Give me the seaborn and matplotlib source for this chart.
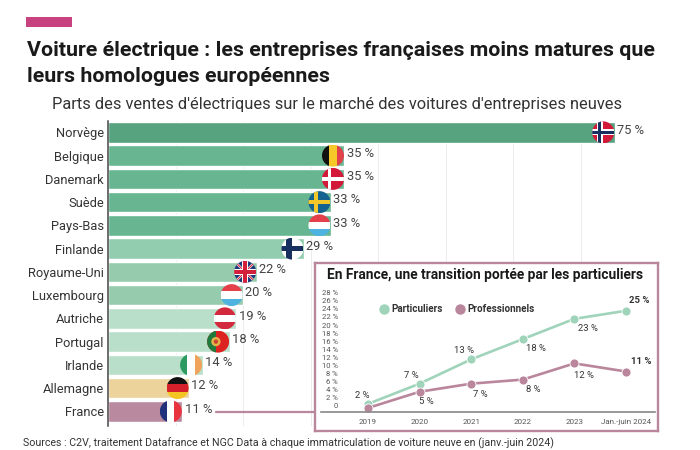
# plot.py
# Voiture electrique : parts des ventes dans les flottes d'entreprises

import pandas as pd
import seaborn as sns
import matplotlib.pyplot as plt
from matplotlib.lines import Line2D
from matplotlib.patches import Circle, Polygon, Rectangle
from matplotlib.transforms import ScaledTranslation

pays = ["Norvège", "Belgique", "Danemark", "Suède", "Pays-Bas", "Finlande", "Royaume-Uni",
        "Luxembourg", "Autriche", "Portugal", "Irlande", "Allemagne", "France"]
parts = [75, 35, 35, 33, 33, 29, 22, 20, 19, 18, 14, 12, 11]
couleurs = ["#57a37f", "#67b691", "#67b691", "#67b691", "#67b691", "#93cdb0", "#97cbae",
            "#97cbae", "#b9dfca", "#b9dfca", "#b9dfca", "#ecd29b", "#b98a9f"]
drapeaux = ["no", "be", "dk", "se", "lu", "fi", "uk", "lu", "at", "pt", "ie", "de", "fr"]

annees = ["2019", "2020", "2021", "2022", "2023", "Jan.-juin 2024"]
particuliers = [2, 7, 13, 18, 23, 25]
professionnels = [1, 5, 7, 8, 12, 10]  # position, l'etiquette dit 11 %
labels_part = ["2 %", "7 %", "13 %", "18 %", "23 %", "25 %"]
labels_pro = ["", "5 %", "7 %", "8 %", "12 %", "11 %"]
ticks_y = list(range(0, 30, 2))

VERT = "#9fd4bb"
ROSE = "#b9869b"
W, H = 700, 450

sns.set_theme(style="white")
plt.rcParams["font.family"] = ["Roboto", "DejaVu Sans"]


def box(x0, y0, x1, y1):
    # pixels du haut de l'image -> fraction de figure
    return [x0 / W, 1 - y1 / H, (x1 - x0) / W, (y1 - y0) / H]


def drapeau(fond, code, cx, cy, r=11):
    clip = Circle((cx, cy), r, transform=fond.transData)

    def rect(x0, y0, x1, y1, c):
        p = Rectangle((cx + x0 * r, cy + y0 * r), (x1 - x0) * r, (y1 - y0) * r, color=c, lw=0, zorder=5)
        fond.add_patch(p)
        p.set_clip_path(clip)

    def poly(pts, c):
        p = Polygon([(cx + a * r, cy + b * r) for a, b in pts], color=c, lw=0, zorder=5)
        fond.add_patch(p)
        p.set_clip_path(clip)

    def bandes_v(cs):
        for i, c in enumerate(cs):
            rect(-1 + 2 * i / len(cs), -1, -1 + 2 * (i + 1) / len(cs), 1, c)

    def bandes_h(cs):
        # y vers le bas : la premiere couleur est en haut
        for i, c in enumerate(cs):
            rect(-1, -1 + 2 * i / len(cs), 1, -1 + 2 * (i + 1) / len(cs), c)

    def croix(fd, c1, e1, c2=None, e2=0, x=-0.3):
        rect(-1, -1, 1, 1, fd)
        rect(x - e1, -1, x + e1, 1, c1)
        rect(-1, -e1, 1, e1, c1)
        if c2:
            rect(x - e2, -1, x + e2, 1, c2)
            rect(-1, -e2, 1, e2, c2)

    if code == "no":
        croix("#d3193a", "white", 0.28, "#17305f", 0.13)
    elif code == "be":
        bandes_v(["#111111", "#f6c928", "#e0414b"])
    elif code == "dk":
        croix("#d3193a", "white", 0.16)
    elif code == "se":
        croix("#14628f", "#f2c72a", 0.2)
    elif code == "fi":
        croix("white", "#17305f", 0.26)
    elif code == "lu":
        bandes_h(["#e4404b", "white", "#4fb3e0"])
    elif code == "at":
        bandes_h(["#d3293f", "white", "#d3293f"])
    elif code == "ie":
        bandes_v(["#2b9b62", "white", "#f0a35a"])
    elif code == "de":
        bandes_h(["#111111", "#d3202a", "#f4c522"])
    elif code == "fr":
        bandes_v(["#20307a", "white", "#e8343f"])
    elif code == "pt":
        rect(-1, -1, 1, 1, "#dd2222")
        rect(-1, -1, -0.2, 1, "#1f7a3c")
        fond.add_patch(Circle((cx - 0.2 * r, cy), 0.42 * r, color="#e6b34a", lw=0, zorder=6))
        fond.add_patch(Circle((cx - 0.2 * r, cy), 0.2 * r, color="#c8452f", lw=0, zorder=7))
    elif code == "uk":
        rect(-1, -1, 1, 1, "#1d3a78")
        for s in (1, -1):
            poly([(-1, -0.85 * s), (-0.85, -1 * s), (1, 0.85 * s), (0.85, 1 * s)], "white")
            poly([(-1, -0.93 * s), (-0.93, -1 * s), (1, 0.93 * s), (0.93, 1 * s)], "#d3203a")
        rect(-0.3, -1, 0.3, 1, "white")
        rect(-1, -0.3, 1, 0.3, "white")
        rect(-0.17, -1, 0.17, 1, "#d3203a")
        rect(-1, -0.17, 1, 0.17, "#d3203a")


fig = plt.figure(figsize=(7, 4.5), dpi=100)

# calque en pixels pour le bandeau, les drapeaux et le filet
fond = fig.add_axes([0, 0, 1, 1], zorder=3)
fond.set_xlim(0, W)
fond.set_ylim(H, 0)
fond.set_aspect("equal")
fond.axis("off")
fond.add_patch(Rectangle((26, 17), 46, 10, color="#c8427f", lw=0))

fig.text(27 / W, 1 - 50.5 / H, "Voiture électrique : les entreprises françaises moins matures que",
         fontsize=15.4, fontweight="bold", color="#1a1a1a", va="center")
fig.text(27 / W, 1 - 76 / H, "leurs homologues européennes",
         fontsize=15.4, fontweight="bold", color="#1a1a1a", va="center")
fig.text(52 / W, 1 - 105 / H, "Parts des ventes d'électriques sur le marché des voitures d'entreprises neuves",
         fontsize=11.8, color="#333333", va="center")
fig.text(23 / W, 1 - 443.5 / H, "Sources : C2V, traitement Datafrance et NGC Data à chaque immatriculation de voiture neuve en (janv.-juin 2024)",
         fontsize=7.7, color="#333333", va="center")

# barres
ax = fig.add_axes(box(108, 121, 648.5, 426), zorder=1)
df = pd.DataFrame({"pays": pays, "part": parts})
sns.barplot(data=df, y="pays", x="part", hue="pays", palette=couleurs, legend=False,
            width=0.88, saturation=1, ax=ax, zorder=2)
ax.set_xlim(0, 80)
ax.set_ylim(12.63, -0.49)
ax.set_xlabel("")
ax.set_ylabel("")
ax.set_xticks(range(10, 90, 10))
ax.tick_params(axis="x", length=0, labelbottom=False)
ax.tick_params(axis="y", length=0, pad=3, labelsize=9.3, labelcolor="#333333")
ax.xaxis.grid(True, color="#ececec", lw=0.7, zorder=0)
sns.despine(ax=ax, top=True, right=True, bottom=True)
ax.spines["left"].set_color("#444444")
ax.spines["left"].set_linewidth(1.1)

for i, (v, code) in enumerate(zip(parts, drapeaux)):
    ax.text(v + 0.35, i - 0.1, f"{v} %", va="center", fontsize=9.3, color="#444444", zorder=6)
    px, py = ax.transData.transform((v, i))
    fx, fy = fond.transData.inverted().transform((px, py))
    drapeau(fond, code, fx - 11.5, fy)

# filet vers l'encadre
y_fr = fond.transData.inverted().transform(ax.transData.transform((0, 12)))[1]
fond.add_line(Line2D([216, 315], [y_fr + 0.5, y_fr + 0.5], color=ROSE, lw=1.6))

# encadre
fond2 = fig.add_axes(box(315, 263, 658, 431), zorder=4)
fond2.set_xticks([])
fond2.set_yticks([])
for s in fond2.spines.values():
    s.set_color(ROSE)
    s.set_linewidth(1.7)
fig.text(485 / W, 1 - 275 / H, "En France, une transition portée par les particuliers",
         fontsize=9.95, fontweight="bold", color="#1a1a1a", ha="center", va="center", zorder=6)

ins = fig.add_axes(box(321, 285, 655, 412), zorder=5)
ins.patch.set_alpha(0)
x = list(range(len(annees)))
df_l = pd.DataFrame({"annee": x * 2, "val": particuliers + professionnels,
                     "serie": ["Particuliers"] * 6 + ["Professionnels"] * 6})
sns.lineplot(data=df_l, x="annee", y="val", hue="serie", palette=[VERT, ROSE], marker="o",
             markersize=6.5, markeredgecolor="white", markeredgewidth=0.6, linewidth=1.9,
             legend=False, ax=ins, clip_on=False)
ins.set_xlim(-(368 - 321) / 51.6, (655 - 368) / 51.6)
ins.set_ylim(0, 127 / 4.05)
ins.set_xlabel("")
ins.set_ylabel("")
ins.set_xticks(x)
ins.set_xticklabels(annees)
ins.set_yticks(ticks_y)
ins.set_yticklabels([f"{t} %" if t else "0" for t in ticks_y])
ins.tick_params(axis="x", length=0, pad=5, labelsize=5.8, labelcolor="#555555")
ins.tick_params(axis="y", length=0, pad=-12.3, labelsize=5.5, labelcolor="#555555")
dec = ScaledTranslation(0, 6 / 72 * 0.72, fig.dpi_scale_trans)
for lab in ins.get_yticklabels():
    lab.set_transform(lab.get_transform() + dec)
sns.despine(ax=ins, left=True, top=True, right=True)
ins.spines["bottom"].set_color("#888888")
ins.spines["bottom"].set_linewidth(1.2)

# etiquettes en decalage pixels
dec_part = [(-6, 8), (-8, 8), (-7, 9), (13, -9), (14, -10), (13, 10)]
dec_pro = [(0, 0), (7, -10), (9, -11), (10, -10), (10, -12), (15, 10)]
for i in x:
    gras = i == 5
    ins.annotate(labels_part[i], (i, particuliers[i]), xytext=(dec_part[i][0] * 0.72, dec_part[i][1] * 0.72),
                 textcoords="offset points", ha="center", va="center", fontsize=6.8,
                 color="#333333", fontweight="bold" if gras else "normal")
    if labels_pro[i]:
        ins.annotate(labels_pro[i], (i, professionnels[i]), xytext=(dec_pro[i][0] * 0.72, dec_pro[i][1] * 0.72),
                     textcoords="offset points", ha="center", va="center", fontsize=6.8,
                     color="#333333", fontweight="bold" if gras else "normal")

poignees = [Line2D([], [], ls="none", marker="o", ms=6.5, color=VERT),
            Line2D([], [], ls="none", marker="o", ms=6.5, color=ROSE)]
leg = ins.legend(poignees, ["Particuliers", "Professionnels"], ncol=2, frameon=False,
                 loc="center left", bbox_to_anchor=(378 / W, 1 - 309 / H),
                 bbox_transform=fig.transFigure, fontsize=7.1, borderpad=0, borderaxespad=0,
                 handletextpad=0.2, columnspacing=1.1, handlelength=1.2)
for t in leg.get_texts():
    t.set_fontweight("bold")
    t.set_color("#333333")

fig.savefig("out.png", dpi=100)
